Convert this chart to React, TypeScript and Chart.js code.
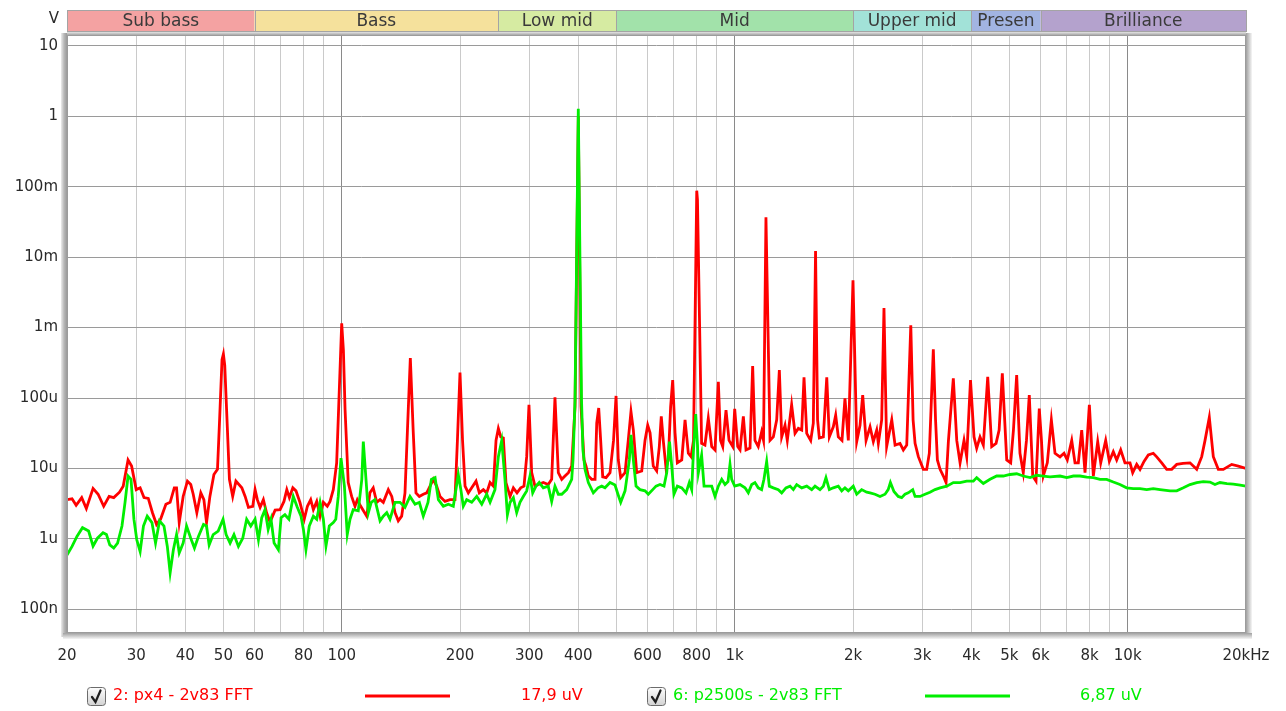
import React, { useEffect, useRef } from 'react';
import { Chart, registerables } from 'chart.js';
Chart.register(...registerables);

// ---- frequency bands (top strip) ----
const bandNames = ['Sub bass', 'Bass', 'Low mid', 'Mid', 'Upper mid', 'Presen', 'Brilliance'];
const bandEdges = [20, 60, 250, 500, 2000, 4000, 6000, 20000];
const bandColors = ['#f4a2a2', '#f5e19c', '#d6eba2', '#a2e2aa', '#a2e2d8', '#a2b4e2', '#b4a2cd'];

// ---- axes ----
const xGridValues = [20, 30, 40, 50, 60, 70, 80, 90, 100, 200, 300, 400, 500, 600, 700, 800, 900,
  1000, 2000, 3000, 4000, 5000, 6000, 7000, 8000, 9000, 10000, 20000];
const xLabelValues = [20, 30, 40, 50, 60, 80, 100, 200, 300, 400, 600, 800, 1000, 2000, 3000, 4000, 5000, 6000, 8000, 10000, 20000];
const xLabelTexts = ['20', '30', '40', '50', '60', '80', '100', '200', '300', '400', '600', '800', '1k', '2k', '3k', '4k', '5k', '6k', '8k', '10k', '20kHz'];
const yTickValues = [1e-7, 1e-6, 1e-5, 1e-4, 1e-3, 1e-2, 1e-1, 1, 10];
const yTickLabels = ['100n', '1u', '10u', '100u', '1m', '10m', '100m', '1', '10'];
const xMin = 20, xMax = 20000, yMin = 4.6e-8, yMax = 14.3;

// ---- series 2: px4 - 2v83 FFT (red) ----
const redFreq = [20, 20.6, 21.1, 21.8, 22.4, 23.3, 24.0, 24.8, 25.6, 26.3, 27.2, 27.8, 28.6, 29.2, 30.0, 30.7, 31.4, 32.2, 33.0, 33.8,
  34.6, 35.7, 36.6, 37.5, 38.0, 38.6, 39.5, 40.5, 41.3, 41.9, 42.8, 43.8, 44.6, 45.3, 46.2, 47.3, 48.3, 48.9, 49.6, 50.0,
  50.4, 51.2, 51.8, 52.8, 53.8, 55.7, 56.8, 57.9, 59.4, 60.2, 61.0, 62.0, 63.2, 64.4, 65.7, 67.7, 69.7, 71.3, 72.5, 73.6,
  75.1, 76.5, 78.3, 80.3, 81.8, 83.4, 84.7, 86.4, 88.1, 89.8, 91.9, 93.4, 95.2, 97.1, 98.4, 100, 101, 102, 103.9, 106,
  108.1, 109.6, 111.8, 115.8, 118, 120.3, 122.8, 125.2, 127.6, 131.4, 134.1, 136.7, 139.3, 142.1, 144.9, 147, 149.5, 152, 154.5, 157.6,
  161.3, 164.6, 167.8, 171, 174.4, 177.9, 183.2, 188.6, 194.2, 197, 200, 203, 206, 210, 214.2, 219.7, 224, 229.3, 233.9, 238.5,
  243.2, 247, 250.4, 254, 257.8, 261.8, 268.2, 273.4, 279.3, 285.4, 291, 295.6, 299.6, 304.4, 310.3, 316.4, 325.8, 335.4, 342.2, 348.9,
  355.8, 363, 370, 377.5, 384.8, 392.4, 400, 406.4, 413.6, 418.5, 424.2, 432.7, 441.2, 445.6, 450.8, 456, 461.5, 470.6, 481.7, 491.7,
  499, 505.6, 512.8, 526, 536, 544.6, 552.2, 563.2, 580, 591.3, 600.7, 609, 620.6, 633.1, 642.8, 650.4, 658, 668.7, 677.8, 687,
  695.4, 705, 714.6, 733.3, 747.6, 762.2, 774.3, 785.7, 800.6, 804, 823.8, 840, 856.7, 874, 891, 908.6, 920.4, 932.4, 950.4, 967.4,
  988.6, 1000, 1017.8, 1031.8, 1052, 1068.6, 1094, 1111, 1126, 1148, 1171, 1184, 1201, 1230, 1254, 1279, 1299, 1317, 1343, 1361,
  1396, 1424, 1452, 1481, 1501, 1525, 1561, 1585, 1606, 1625, 1642, 1681, 1715, 1741, 1782, 1807, 1835, 1875, 1908, 1946,
  2000, 2044, 2084, 2117, 2159, 2210, 2253, 2298, 2320, 2366, 2398, 2436, 2510, 2559, 2634, 2686, 2740, 2806, 2844, 2877,
  2933, 3020, 3080, 3128, 3202, 3244, 3279, 3331, 3396, 3450, 3497, 3600, 3673, 3745, 3833, 3894, 3981, 4064, 4128, 4210,
  4292, 4404, 4508, 4624, 4708, 4797, 4922, 5038, 5120, 5218, 5320, 5424, 5526, 5618, 5733, 5844, 5957, 6034, 6099, 6244,
  6394, 6532, 6726, 6886, 7020, 7204, 7344, 7488, 7638, 7788, 7988, 8177, 8389, 8538, 8790, 8980, 9192, 9376, 9598, 9842,
  10136, 10298, 10542, 10748, 11004, 11284, 11618, 11854, 12206, 12568, 12942, 13328, 13828, 14406, 14984, 15430, 15732, 16132, 16514, 17004,
  17512, 18392, 19118, 20000];
const redVolts = [3.6e-6, 3.7e-6, 3.0e-6, 3.85e-6, 2.7e-6, 5.2e-6, 4.3e-6, 2.9e-6, 4.0e-6, 3.85e-6, 4.6e-6, 5.6e-6, 1.32e-5, 1.08e-5, 5.0e-6, 5.3e-6, 3.85e-6, 3.75e-6, 2.35e-6, 1.6e-6,
  1.9e-6, 3.1e-6, 3.3e-6, 5.3e-6, 5.3e-6, 1.7e-6, 4.0e-6, 6.6e-6, 5.9e-6, 4.3e-6, 2.35e-6, 4.5e-6, 3.6e-6, 1.7e-6, 4.0e-6, 8.2e-6, 9.7e-6, 4.9e-5, 3.5e-4, 4.2e-4,
  2.9e-4, 3.5e-5, 7.0e-6, 4.0e-6, 6.6e-6, 5.3e-6, 4.0e-6, 2.8e-6, 2.9e-6, 5.0e-6, 3.6e-6, 2.8e-6, 3.6e-6, 2.35e-6, 1.73e-6, 2.56e-6, 2.6e-6, 3.4e-6, 5.0e-6, 3.85e-6,
  5.3e-6, 4.8e-6, 3.3e-6, 1.9e-6, 2.9e-6, 3.6e-6, 2.6e-6, 3.4e-6, 2.1e-6, 3.3e-6, 2.9e-6, 3.4e-6, 5.0e-6, 1.2e-5, 9.4e-5, 1.15e-3, 4.8e-4, 6.8e-5, 6.3e-6, 4.0e-6,
  2.9e-6, 3.6e-6, 2.9e-6, 2.1e-6, 4.5e-6, 5.3e-6, 3.3e-6, 3.6e-6, 3.3e-6, 5.0e-6, 4.0e-6, 2.35e-6, 1.8e-6, 2.1e-6, 4.5e-6, 3.5e-5, 3.7e-4, 3.5e-5, 4.5e-6, 4.0e-6,
  4.3e-6, 4.5e-6, 5.6e-6, 7.0e-6, 5.6e-6, 4.0e-6, 3.4e-6, 3.6e-6, 3.6e-6, 2.5e-5, 2.3e-4, 2.5e-5, 5.6e-6, 4.5e-6, 5.3e-6, 6.6e-6, 4.5e-6, 5.0e-6, 4.5e-6, 6.3e-6,
  5.6e-6, 2.5e-5, 3.7e-5, 2.8e-5, 2.7e-5, 6.3e-6, 4.0e-6, 5.3e-6, 4.5e-6, 5.3e-6, 5.6e-6, 1.47e-5, 8.0e-5, 8.7e-6, 5.6e-6, 5.9e-6, 6.3e-6, 5.9e-6, 7.0e-6, 1.02e-4,
  8.7e-6, 7.0e-6, 7.8e-6, 8.7e-6, 1.08e-5, 7.5e-5, 1.0, 7.6e-5, 1.32e-5, 1.08e-5, 7.8e-6, 7.0e-6, 7.0e-6, 4.4e-5, 7.2e-5, 2.5e-5, 7.6e-6, 7.4e-6, 8.7e-6, 2.5e-5,
  1.07e-4, 1.32e-5, 7.4e-6, 8.7e-6, 2.5e-5, 6.4e-5, 3.5e-5, 8.7e-6, 9.2e-6, 2.5e-5, 4.1e-5, 3.2e-5, 1.08e-5, 9.2e-6, 2.0e-5, 5.5e-5, 2.5e-5, 1.02e-5, 1.32e-5, 7.5e-5,
  1.8e-4, 3.2e-5, 1.2e-5, 1.32e-5, 4.9e-5, 1.64e-5, 1.47e-5, 2.5e-5, 8.8e-2, 6.5e-2, 2.27e-5, 2.15e-5, 5.15e-5, 2.04e-5, 1.83e-5, 1.7e-4, 2.5e-5, 2.04e-5, 6.75e-5, 2.5e-5,
  2.04e-5, 7.0e-5, 2.04e-5, 1.83e-5, 5.5e-5, 1.83e-5, 1.95e-5, 2.85e-4, 2.5e-5, 2.04e-5, 3.3e-5, 2.5e-5, 3.7e-2, 2.5e-5, 2.8e-5, 4.9e-5, 2.5e-4, 2.8e-5, 4.1e-5, 2.5e-5,
  8.0e-5, 3.15e-5, 3.7e-5, 3.5e-5, 1.97e-4, 3.15e-5, 2.5e-5, 4.4e-5, 1.22e-2, 4.9e-5, 2.7e-5, 2.8e-5, 1.97e-4, 2.8e-5, 3.9e-5, 5.7e-5, 2.8e-5, 2.5e-5, 9.9e-5, 2.5e-5,
  4.7e-3, 2.4e-5, 4.1e-5, 1.1e-4, 2.5e-5, 3.9e-5, 2.4e-5, 3.5e-5, 2.27e-5, 4.9e-5, 1.9e-3, 2.04e-5, 4.9e-5, 2.15e-5, 2.27e-5, 1.83e-5, 2.15e-5, 1.08e-3, 4.9e-5, 2.27e-5,
  1.47e-5, 9.7e-6, 9.7e-6, 1.64e-5, 4.9e-4, 4.9e-5, 1.32e-5, 9.7e-6, 7.8e-6, 6.3e-6, 2.4e-5, 1.9e-4, 2.5e-5, 1.2e-5, 2.5e-5, 1.47e-5, 1.8e-4, 2.8e-5, 1.93e-5, 2.8e-5,
  2.15e-5, 2.0e-4, 2.04e-5, 2.27e-5, 3.5e-5, 2.24e-4, 1.32e-5, 1.2e-5, 3.5e-5, 2.12e-4, 1.64e-5, 8.7e-6, 2.5e-5, 1.1e-4, 7.8e-6, 6.6e-6, 7.1e-5, 2.5e-5, 7.8e-6, 1.2e-5,
  4.9e-5, 1.64e-5, 1.46e-5, 1.64e-5, 1.32e-5, 2.5e-5, 1.2e-5, 1.2e-5, 3.5e-5, 8.7e-6, 8.0e-5, 7.8e-6, 2.4e-5, 1.2e-5, 2.5e-5, 1.26e-5, 1.73e-5, 1.32e-5, 1.83e-5, 1.2e-5,
  1.2e-5, 8.7e-6, 1.14e-5, 9.7e-6, 1.26e-5, 1.55e-5, 1.64e-5, 1.46e-5, 1.2e-5, 9.7e-6, 9.7e-6, 1.14e-5, 1.18e-5, 1.2e-5, 9.7e-6, 1.47e-5, 2.5e-5, 5.3e-5, 1.47e-5, 9.7e-6,
  9.7e-6, 1.14e-5, 1.08e-5, 1.0e-5];

// ---- series 6: p2500s - 2v83 FFT (green) ----
const greenFreq = [20, 20.6, 21.2, 21.9, 22.7, 23.3, 23.9, 24.7, 25.2, 25.7, 26.3, 26.9, 27.6, 28.1, 28.6, 29.1, 29.6, 30.1, 30.7, 31.3,
  32.0, 32.9, 33.6, 34.4, 35.3, 36.0, 36.6, 37.3, 38.0, 38.6, 39.5, 40.3, 41.3, 42.2, 43.2, 44.5, 45.3, 46.0, 47.1, 48.5,
  49.9, 50.8, 52.0, 53.2, 54.6, 56.0, 57.3, 58.7, 60.2, 61.4, 62.6, 63.8, 65.0, 66.1, 67.3, 69.0, 70.1, 71.7, 73.4, 75.3,
  77.1, 78.8, 79.9, 81.1, 82.7, 84.7, 86.4, 88.1, 89.8, 91.2, 93.0, 95.2, 96.6, 98.0, 99.6, 101.6, 103.3, 105, 107, 110.2,
  112.5, 113.5, 115.3, 116.9, 118.9, 121.5, 125.2, 127.6, 130.2, 132.7, 136.7, 140.7, 144.9, 149.2, 153.7, 157.6, 161.3, 165.8, 169.1, 172.8,
  176.2, 181.4, 186.8, 192.3, 198, 201, 203.9, 208, 214.2, 220.6, 227.2, 233.9, 238.5, 245.5, 250.4, 255.4, 260.3, 264, 268.2, 273.4,
  278.8, 284.2, 289.8, 295.6, 301.4, 306.2, 312.2, 318.2, 325.8, 335.4, 342.2, 348.9, 355.8, 363, 373.7, 384.8, 387.8, 392.4, 400, 407.6,
  411, 416, 424.2, 436.8, 448.9, 458.8, 467.7, 481.7, 496, 504.6, 512.8, 526, 539.4, 544.6, 552.2, 561, 574.1, 591.3, 602.8, 618.6,
  630.6, 645.6, 660.9, 671.4, 682.6, 692.6, 700.5, 714.6, 733.3, 751.9, 766.6, 777.4, 785.6, 795.8, 804.2, 808.4, 823.8, 835.6, 855.4, 874,
  891, 908.6, 926.8, 944.8, 961.6, 972.8, 982.4, 1000, 1031.8, 1062.4, 1083, 1105, 1126, 1148, 1171, 1187, 1206, 1225, 1254, 1291,
  1317, 1350, 1383, 1410, 1438, 1481, 1525, 1570, 1601, 1648, 1681, 1707, 1741, 1782, 1835, 1872, 1908, 1946, 2003, 2044,
  2104, 2167, 2210, 2275, 2343, 2413, 2458, 2490, 2542, 2607, 2660, 2712, 2765, 2838, 2877, 2962, 3050, 3140, 3234, 3331,
  3464, 3600, 3745, 3894, 4048, 4128, 4292, 4464, 4642, 4826, 5018, 5218, 5424, 5642, 5868, 6099, 6345, 6726, 6998, 7274,
  7562, 7866, 8177, 8503, 8842, 9192, 9556, 9936, 10331, 10748, 11178, 11618, 12083, 12816, 13328, 13856, 14406, 14984, 15570, 16192,
  16674, 17170, 17888, 18568, 19332, 20000];
const greenVolts = [5.9e-7, 7.8e-7, 1.08e-6, 1.44e-6, 1.29e-6, 7.9e-7, 1.02e-6, 1.22e-6, 1.15e-6, 8.2e-7, 7.4e-7, 8.7e-7, 1.52e-6, 3.3e-6, 7.8e-6, 7.0e-6, 1.9e-6, 9.7e-7, 6.6e-7, 1.52e-6,
  2.1e-6, 1.7e-6, 8.7e-7, 1.8e-6, 1.52e-6, 7.8e-7, 3.3e-7, 7.0e-7, 1.15e-6, 6.3e-7, 8.7e-7, 1.52e-6, 1.02e-6, 7.4e-7, 1.08e-6, 1.6e-6, 1.52e-6, 8.2e-7, 1.15e-6, 1.29e-6,
  1.9e-6, 1.15e-6, 8.7e-7, 1.15e-6, 7.8e-7, 1.02e-6, 1.9e-6, 1.52e-6, 1.9e-6, 9.7e-7, 2.0e-6, 2.6e-6, 1.36e-6, 1.9e-6, 8.7e-7, 7.0e-7, 2.0e-6, 2.2e-6, 1.9e-6, 4.0e-6,
  2.8e-6, 2.1e-6, 1.36e-6, 7.0e-7, 1.52e-6, 2.1e-6, 1.9e-6, 3.3e-6, 1.9e-6, 7.9e-7, 1.52e-6, 1.7e-6, 1.9e-6, 4.0e-6, 1.4e-5, 5.6e-6, 1.15e-6, 1.9e-6, 2.6e-6, 2.5e-6,
  7.0e-6, 2.4e-5, 7.0e-6, 2.35e-6, 3.3e-6, 3.6e-6, 1.8e-6, 2.1e-6, 2.35e-6, 1.9e-6, 3.3e-6, 3.3e-6, 2.8e-6, 4.0e-6, 3.1e-6, 3.3e-6, 2.1e-6, 3.3e-6, 7.0e-6, 7.4e-6,
  3.6e-6, 2.9e-6, 3.1e-6, 2.9e-6, 8.2e-6, 5.0e-6, 2.9e-6, 3.6e-6, 3.3e-6, 4.0e-6, 3.1e-6, 4.3e-6, 3.3e-6, 5.0e-6, 1.47e-5, 2.5e-5, 7.0e-6, 2.2e-6, 3.3e-6, 3.85e-6,
  2.35e-6, 3.3e-6, 4.0e-6, 4.8e-6, 7.8e-6, 4.5e-6, 5.6e-6, 6.3e-6, 5.3e-6, 5.6e-6, 3.4e-6, 5.6e-6, 4.3e-6, 4.3e-6, 5.0e-6, 7.0e-6, 1.32e-5, 9.4e-5, 1.28, 9.4e-5,
  1.83e-5, 9.7e-6, 6.3e-6, 4.5e-6, 5.3e-6, 5.6e-6, 5.3e-6, 6.3e-6, 5.8e-6, 4.3e-6, 3.3e-6, 4.8e-6, 1.32e-5, 3.0e-5, 1.32e-5, 5.6e-6, 5.0e-6, 4.8e-6, 4.3e-6, 5.0e-6,
  5.6e-6, 5.9e-6, 5.6e-6, 8.7e-6, 2.4e-5, 9.7e-6, 4.3e-6, 5.6e-6, 5.3e-6, 4.5e-6, 6.3e-6, 5.0e-6, 1.83e-5, 5.9e-5, 2.15e-5, 8.7e-6, 1.55e-5, 5.6e-6, 5.6e-6, 5.6e-6,
  4.0e-6, 5.6e-6, 7.0e-6, 5.9e-6, 6.5e-6, 1.14e-5, 7.0e-6, 5.6e-6, 5.9e-6, 5.3e-6, 4.5e-6, 5.9e-6, 6.3e-6, 5.3e-6, 5.0e-6, 7.0e-6, 1.25e-5, 5.6e-6, 5.3e-6, 5.0e-6,
  4.5e-6, 5.3e-6, 5.6e-6, 5.0e-6, 5.9e-6, 5.3e-6, 5.6e-6, 5.0e-6, 5.6e-6, 5.0e-6, 5.6e-6, 7.4e-6, 5.0e-6, 5.3e-6, 5.6e-6, 4.8e-6, 5.3e-6, 4.8e-6, 5.6e-6, 4.3e-6,
  5.0e-6, 4.6e-6, 4.5e-6, 4.3e-6, 4.0e-6, 4.3e-6, 5.0e-6, 6.3e-6, 4.7e-6, 4.0e-6, 3.85e-6, 4.3e-6, 4.5e-6, 5.0e-6, 4.0e-6, 4.0e-6, 4.3e-6, 4.6e-6, 5.0e-6, 5.3e-6,
  5.6e-6, 6.3e-6, 6.3e-6, 6.6e-6, 6.6e-6, 7.4e-6, 6.1e-6, 7.0e-6, 7.8e-6, 7.8e-6, 8.2e-6, 8.4e-6, 7.8e-6, 7.4e-6, 8.0e-6, 7.8e-6, 7.6e-6, 7.8e-6, 7.4e-6, 7.8e-6,
  7.8e-6, 7.5e-6, 7.4e-6, 7.0e-6, 7.0e-6, 6.4e-6, 5.9e-6, 5.3e-6, 5.15e-6, 5.15e-6, 5.0e-6, 5.15e-6, 5.0e-6, 4.8e-6, 4.8e-6, 5.3e-6, 5.9e-6, 6.3e-6, 6.5e-6, 6.4e-6,
  5.9e-6, 6.3e-6, 6.1e-6, 6.0e-6, 5.8e-6, 5.6e-6];

// ---- legend ----
const legendNames = ['2: px4 - 2v83 FFT', '6: p2500s - 2v83 FFT'];
const legendValues = ['17,9 uV', '6,87 uV'];
const seriesColors = ['#ff0000', '#00ee00'];

const FONT = '"DejaVu Sans", sans-serif';

function isDecade(v: number) {
  const l = Math.log10(v);
  return Math.abs(l - Math.round(l)) < 1e-6;
}

export default function App() {
  const ref = useRef<HTMLCanvasElement>(null);
  useEffect(() => {
    document.body.style.margin = '0';
    const canvas = ref.current!;

    const decor = {
      id: 'decor',
      afterDraw(chart: any) {
        const ctx = chart.ctx as CanvasRenderingContext2D;
        const a = chart.chartArea;
        const xs = chart.scales.x;
        ctx.save();
        // frame shadows
        let g = ctx.createLinearGradient(a.left - 6, 0, a.left, 0);
        g.addColorStop(0, '#ececec');
        g.addColorStop(0.5, '#b8b8b8');
        g.addColorStop(1, '#9a9a9a');
        ctx.fillStyle = g;
        ctx.fillRect(a.left - 6, a.top - 2, 6, a.bottom - a.top + 6);
        g = ctx.createLinearGradient(0, a.top - 3, 0, a.top);
        g.addColorStop(0, '#e4e4e4');
        g.addColorStop(1, '#a8a8a8');
        ctx.fillStyle = g;
        ctx.fillRect(a.left, a.top - 3, a.right - a.left, 3);
        g = ctx.createLinearGradient(a.right, 0, a.right + 6, 0);
        g.addColorStop(0, '#a0a0a0');
        g.addColorStop(1, '#f6f6f6');
        ctx.fillStyle = g;
        ctx.fillRect(a.right, a.top - 2, 6, a.bottom - a.top + 8);
        g = ctx.createLinearGradient(0, a.bottom, 0, a.bottom + 6);
        g.addColorStop(0, '#a0a0a0');
        g.addColorStop(1, '#f6f6f6');
        ctx.fillStyle = g;
        ctx.fillRect(a.left - 4, a.bottom, a.right - a.left + 10, 6);
        ctx.strokeStyle = '#9c9c9c';
        ctx.lineWidth = 1;
        ctx.strokeRect(a.left + 0.5, a.top + 0.5, a.right - a.left - 1, a.bottom - a.top - 1);

        // band strip
        const top = 10, h = 21;
        ctx.font = '17px ' + FONT;
        ctx.textAlign = 'center';
        ctx.textBaseline = 'middle';
        for (let i = 0; i < bandNames.length; i++) {
          const x0 = xs.getPixelForValue(bandEdges[i]);
          const x1 = xs.getPixelForValue(bandEdges[i + 1]);
          ctx.fillStyle = bandColors[i];
          ctx.fillRect(x0, top, x1 - x0, h);
          ctx.strokeStyle = '#a4a4a4';
          ctx.strokeRect(Math.round(x0) + 0.5, top + 0.5, Math.round(x1) - Math.round(x0), h);
          ctx.save();
          ctx.beginPath();
          ctx.rect(x0 + 1, top, x1 - x0 - 2, h);
          ctx.clip();
          ctx.fillStyle = '#3a3a3a';
          ctx.fillText(bandNames[i], (x0 + x1) / 2, top + h / 2 + 1);
          ctx.restore();
        }
        // unit label
        ctx.font = '15px ' + FONT;
        ctx.fillStyle = '#2a2a2a';
        ctx.textAlign = 'right';
        ctx.fillText('V', 59, 19);

        // legend
        const ly = 696;
        const boxX = [87, 647];
        const lineX = [365, 925];
        const valX = [521, 1080];
        for (let i = 0; i < 2; i++) {
          const bx = boxX[i], by = ly - 9;
          const bg = ctx.createLinearGradient(0, by, 0, by + 18);
          bg.addColorStop(0, '#ffffff');
          bg.addColorStop(1, '#d4d4d4');
          ctx.fillStyle = bg;
          ctx.beginPath();
          (ctx as any).roundRect(bx + 0.5, by + 0.5, 18, 18, 3);
          ctx.fill();
          ctx.strokeStyle = '#6c6c6c';
          ctx.lineWidth = 1;
          ctx.stroke();
          ctx.strokeStyle = '#1e1e1e';
          ctx.lineWidth = 2.2;
          ctx.lineCap = 'round';
          ctx.beginPath();
          ctx.moveTo(bx + 5, by + 10);
          ctx.lineTo(bx + 8.5, by + 15);
          ctx.lineTo(bx + 13.5, by + 3.5);
          ctx.stroke();

          ctx.font = '16px ' + FONT;
          ctx.textAlign = 'left';
          ctx.textBaseline = 'middle';
          ctx.fillStyle = seriesColors[i];
          ctx.fillText(legendNames[i], bx + 26, ly);
          ctx.fillText(legendValues[i], valX[i], ly);
          ctx.strokeStyle = seriesColors[i];
          ctx.lineWidth = 3;
          ctx.lineCap = 'butt';
          ctx.beginPath();
          ctx.moveTo(lineX[i], ly);
          ctx.lineTo(lineX[i] + 85, ly);
          ctx.stroke();
        }
        ctx.restore();
      },
    };

    const chart = new Chart(canvas, {
      type: 'line',
      data: {
        datasets: [
          {
            label: legendNames[1],
            data: greenFreq.map((f, i) => ({ x: f, y: greenVolts[i] })),
            borderColor: seriesColors[1],
            borderWidth: 2.8,
            pointRadius: 0,
            tension: 0,
            order: 0,
          },
          {
            label: legendNames[0],
            data: redFreq.map((f, i) => ({ x: f, y: redVolts[i] })),
            borderColor: seriesColors[0],
            borderWidth: 2.8,
            pointRadius: 0,
            tension: 0,
            order: 1,
          },
        ],
      },
      options: {
        responsive: false,
        animation: false,
        events: [],
        layout: { padding: { left: 0, top: 35, right: 40, bottom: 0 } },
        plugins: { legend: { display: false }, tooltip: { enabled: false } },
        scales: {
          x: {
            type: 'logarithmic',
            min: xMin,
            max: xMax,
            afterBuildTicks: (s: any) => { s.ticks = xGridValues.map((v) => ({ value: v })); },
            afterFit: (s: any) => { s.height = 78; },
            border: { display: false },
            grid: {
              drawTicks: false,
              lineWidth: 1,
              color: (c: any) => (c.tick && isDecade(c.tick.value) ? '#8a8a8a' : '#cacaca'),
            },
            ticks: {
              autoSkip: false,
              maxRotation: 0,
              padding: 14,
              color: '#2a2a2a',
              font: { family: FONT, size: 15 },
              callback: (v: any) => {
                const k = xLabelValues.indexOf(Number(v));
                return k >= 0 ? xLabelTexts[k] : '';
              },
            },
          },
          y: {
            type: 'logarithmic',
            min: yMin,
            max: yMax,
            afterBuildTicks: (s: any) => { s.ticks = yTickValues.map((v) => ({ value: v })); },
            afterFit: (s: any) => { s.width = 67; },
            border: { display: false },
            grid: { drawTicks: false, lineWidth: 1, color: '#9a9a9a' },
            ticks: {
              autoSkip: false,
              padding: 9,
              color: '#2a2a2a',
              font: { family: FONT, size: 15 },
              callback: (v: any) => {
                const k = yTickValues.findIndex((t) => Math.abs(t - Number(v)) / t < 1e-6);
                return k >= 0 ? yTickLabels[k] : '';
              },
            },
          },
        },
      },
      plugins: [decor],
    } as any);
    return () => chart.destroy();
  }, []);
  return <canvas ref={ref} width={1286} height={711} style={{ display: 'block', width: 1286, height: 711 }} />;
}
